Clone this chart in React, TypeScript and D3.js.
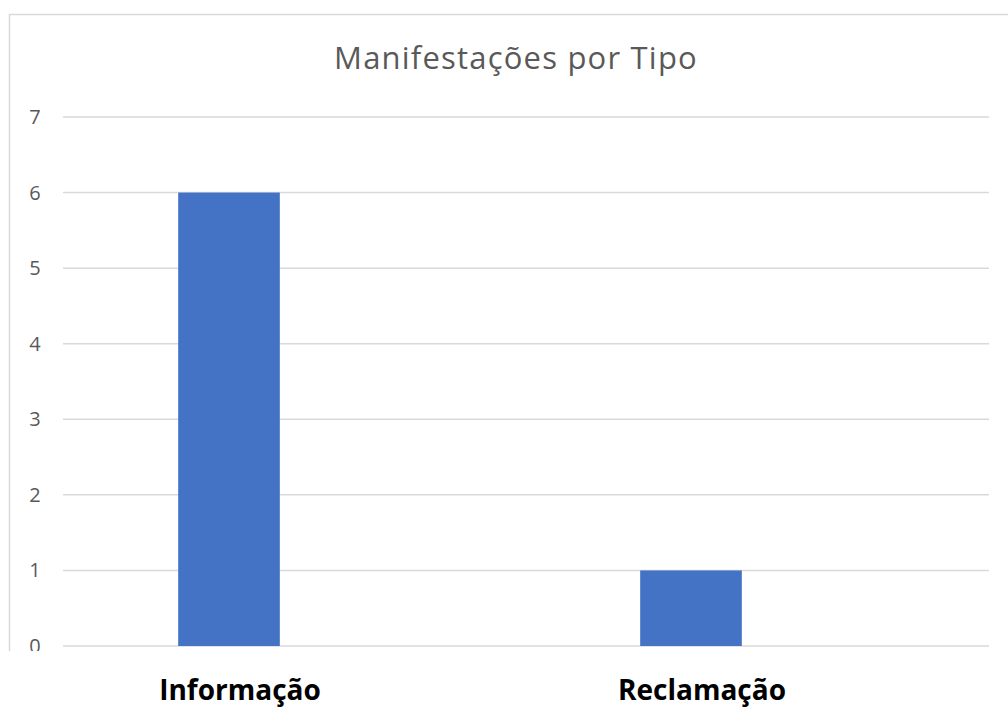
import React from "react";
import * as d3 from "d3";

const categories = ["Informação", "Reclamação"];
const counts = [6, 1];
const yTicks = [0, 1, 2, 3, 4, 5, 6, 7];
const chartTitle = "Manifestações por Tipo";

const W = 1008;
const H = 709;

export default function App() {
  const x = d3
    .scaleBand<string>()
    .domain(categories)
    .range([-2, 922])
    .paddingInner(0.78)
    .paddingOuter(0.39);
  const y = d3.scaleLinear().domain([0, 7]).range([646, 117]);
  const gridX0 = 63;
  const gridX1 = 989;
  const clipBottom = 651;

  return (
    <svg
      width={W}
      height={H}
      style={{ position: "absolute", left: 0, top: 0, background: "#fff" }}
    >
      <defs>
        <clipPath id="cut">
          <rect x={0} y={0} width={W} height={clipBottom} />
        </clipPath>
      </defs>
      <g clipPath="url(#cut)">
        {/* chart frame (cut off at right and bottom) */}
        <path
          d={`M9.5,${H} V14.5 H${W + 2}`}
          fill="none"
          stroke="#d9d9d9"
          strokeWidth={1.5}
        />
        <text
          x={516}
          y={69}
          textAnchor="middle"
          fontFamily="'Open Sans', sans-serif"
          fontSize={31}
          letterSpacing={1.2}
          fill="#595959"
        >
          {chartTitle}
        </text>
        {yTicks.map((t) => (
          <g key={t}>
            <line
              x1={gridX0}
              x2={gridX1}
              y1={y(t)}
              y2={y(t)}
              stroke="#d9d9d9"
              strokeWidth={1.5}
            />
            <text
              x={35}
              y={y(t)}
              dy="0.35em"
              textAnchor="middle"
              fontFamily="'Open Sans', sans-serif"
              fontSize={20}
              fill="#595959"
            >
              {t}
            </text>
          </g>
        ))}
        {categories.map((c, i) => (
          <rect
            key={c}
            x={x(c)}
            y={y(counts[i])}
            width={x.bandwidth()}
            height={y(0) - y(counts[i])}
            fill="#4472c4"
          />
        ))}
      </g>
      {categories.map((c) => (
        <text
          key={c}
          x={(x(c) ?? 0) + x.bandwidth() / 2 + 11}
          y={700}
          textAnchor="middle"
          fontFamily="'Open Sans', sans-serif"
          fontWeight="bold"
          fontSize={28}
          fill="#000"
        >
          {c}
        </text>
      ))}
    </svg>
  );
}
